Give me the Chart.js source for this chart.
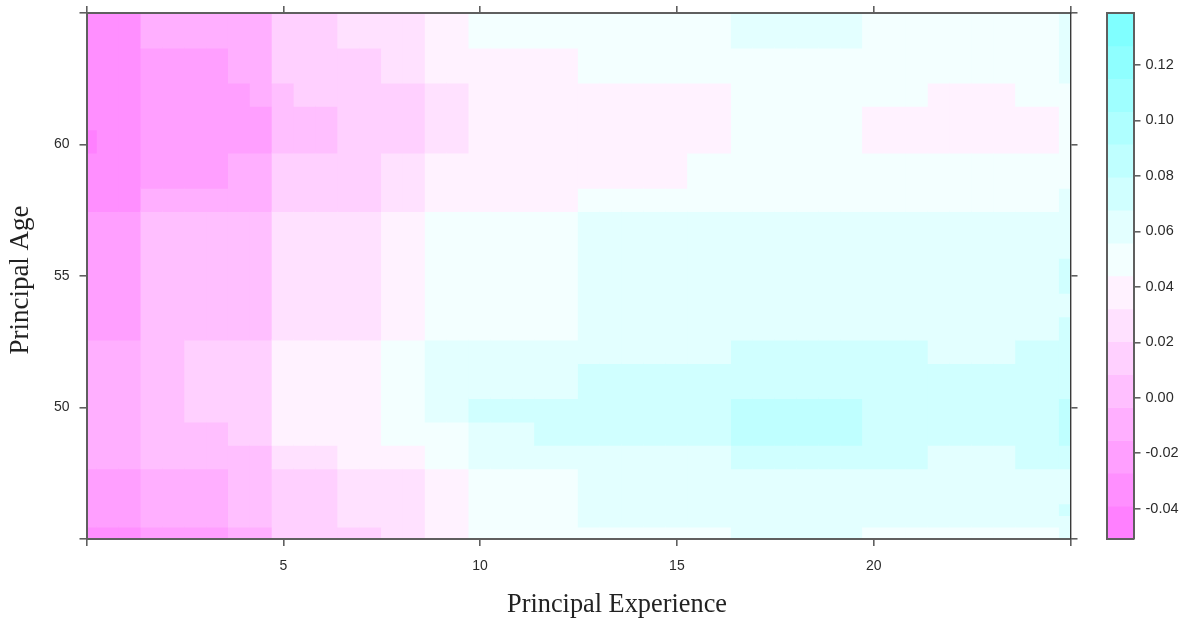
<!DOCTYPE html>
<html>
<head>
<meta charset="utf-8">
<style>
html,body{margin:0;padding:0;background:#fff;overflow:hidden}
canvas{position:absolute;top:0;display:block}
#main{left:0}
#key{left:1090px}
</style>
<script src="https://cdn.jsdelivr.net/npm/chart.js@4/dist/chart.umd.min.js"></script>
</head>
<body>
<canvas id="main" width="1090" height="623"></canvas>
<canvas id="key" width="101" height="623"></canvas>
<script>
// Colour key (low to high) and the value limits of its bands
const levelColors = ['#FF80FF','#FF8FFF','#FF9FFF','#FFAFFF','#FFBFFF','#FFD0FF','#FFE1FF','#FFF2FF',
                     '#F3FFFF','#E3FFFF','#D0FFFF','#BFFFFF','#AFFFFF','#9FFFFF','#8FFFFF','#80FFFF'];
const levelBreaks = [-0.0509,-0.0391,-0.0272,-0.0154,-0.0035,0.0083,0.0202,0.0320,0.0439,
                     0.0557,0.0676,0.0794,0.0913,0.1031,0.1150,0.1268,0.1387];
const keyTicks = [-0.04,-0.02,0,0.02,0.04,0.06,0.08,0.10,0.12];

// Grid of the surface: 46 experience columns and 45 age rows
const experience = [0,0.556,1.111,1.667,2.222,2.778,3.333,3.889,4.444,5,5.556,6.111,6.667,7.222,7.778,8.333,
  8.889,9.444,10,10.556,11.111,11.667,12.222,12.778,13.333,13.889,14.444,15,15.556,16.111,16.667,17.222,
  17.778,18.333,18.889,19.444,20,20.556,21.111,21.667,22.222,22.778,23.333,23.889,24.444,25];
const ageTop = 65, ageRowStep = 0.4444;

// Number of age rows (from the top) covered by each band below
const bandRows = [3,3,2,2,2,3,2,4,3,2,2,2,3,2,2,2,3,1,1,1];
// Surface level per band: [level index, last column of the run]
const bandLevels = [
  [[1,2],[3,8],[5,11],[6,15],[7,17],[8,29],[9,35],[8,44],[9,45]],
  [[1,2],[2,6],[3,8],[5,13],[6,15],[7,22],[8,44],[9,45]],
  [[1,2],[2,7],[3,8],[4,9],[5,15],[6,17],[7,29],[8,38],[7,42],[8,45]],
  [[1,2],[2,8],[4,11],[5,15],[6,17],[7,29],[8,35],[7,44],[8,45]],
  [[0,0],[1,2],[2,8],[4,11],[5,15],[6,17],[7,29],[8,35],[7,44],[8,45]],
  [[1,2],[2,6],[3,8],[5,13],[6,15],[7,27],[8,45]],
  [[1,2],[3,8],[5,13],[6,15],[7,22],[8,44],[9,45]],
  [[2,2],[4,8],[6,13],[7,15],[8,22],[9,45]],
  [[2,2],[4,8],[6,13],[7,15],[8,22],[9,44],[10,45]],
  [[2,2],[4,8],[6,13],[7,15],[8,22],[9,45]],
  [[2,2],[4,8],[6,13],[7,15],[8,22],[9,44],[10,45]],
  [[3,2],[4,4],[5,8],[7,13],[8,15],[9,29],[10,38],[9,42],[10,45]],
  [[3,2],[4,4],[5,8],[7,13],[8,15],[9,22],[10,45]],
  [[3,2],[4,4],[5,8],[7,13],[8,15],[9,17],[10,29],[11,35],[10,44],[11,45]],
  [[3,2],[4,6],[5,8],[7,13],[8,17],[9,20],[10,29],[11,35],[10,44],[11,45]],
  [[3,2],[4,8],[6,11],[7,15],[8,17],[9,29],[10,38],[9,42],[10,45]],
  [[2,2],[3,6],[4,8],[5,11],[6,15],[7,17],[8,22],[9,45]],
  [[2,2],[3,6],[4,8],[5,11],[6,15],[7,17],[8,22],[9,44],[10,45]],
  [[2,2],[3,6],[4,8],[5,11],[6,15],[7,17],[8,22],[9,45]],
  [[1,2],[2,6],[3,8],[5,13],[6,15],[7,17],[8,29],[9,35],[8,44],[9,45]]
];
const xTitle = 'Principal Experience', yTitle = 'Principal Age';

// Expand to one level per cell, then merge vertical runs per column
const rowsGrid = [];
bandLevels.forEach((runs, b) => {
  const row = [];
  let c = 0;
  runs.forEach(([lvl, end]) => { while (c <= end) { row[c++] = lvl; } });
  for (let i = 0; i < bandRows[b]; i++) rowsGrid.push(row);
});
const cells = [], cellColors = [];
experience.forEach((xv, c) => {
  let r = rowsGrid.length - 1;
  while (r >= 0) {
    const lvl = rowsGrid[r][c];
    const bottom = ageTop - (r + 1) * ageRowStep;
    while (r >= 0 && rowsGrid[r][c] === lvl) r--;
    const top = ageTop - (r + 1) * ageRowStep;
    cells.push({x: xv, y: [bottom, top + 0.03]});
    cellColors.push(levelColors[lvl]);
  }
});

const FRAME = '#5f5f5f', TICK_TXT = '#2b2b2b';
const tickFont = {family: '"Liberation Sans", Arial, sans-serif', size: 14};
const titleFont = {family: '"Liberation Serif", serif', size: 27};
const fix = (prop, v) => (s) => {
  s[prop] = v;
  s.paddingLeft = s.paddingRight = s.paddingTop = s.paddingBottom = 0;
};

// The two titles sit off-centre in the reference: place their own empty axes
const placeTitles = {
  id: 'placeTitles',
  afterLayout(chart) {
    const s = chart.scales;
    s.xLabel.left = 507; s.xLabel.right = 727; s.xLabel.top = 623; s.xLabel.bottom = 623;
    s.yLabel.left = 0; s.yLabel.right = 0; s.yLabel.top = 200; s.yLabel.bottom = 360;
  }
};

const axisBase = (extra) => Object.assign({
  grid: {display: true, drawOnChartArea: false, drawTicks: true, tickLength: 7, color: FRAME, lineWidth: 1.6, z: 1, offset: false},
  border: {display: true, color: FRAME, width: 2, z: 1},
  offset: false
}, extra);
const titleAxis = (pos, lo, hi, text, pad) => ({
  type: 'linear', position: pos, min: lo, max: hi, offset: false, afterFit: fix(pos === 'bottom' ? 'height' : 'width', 0),
  grid: {display: false, drawTicks: false}, border: {display: false}, ticks: {display: false},
  title: {display: true, text, font: titleFont, color: '#222', padding: pad}
});

new Chart(document.getElementById('main'), {
  type: 'bar',
  data: {datasets: [{
    data: cells, backgroundColor: cellColors, borderWidth: 0, borderSkipped: false,
    barThickness: 22.5, grouped: false
  }]},
  plugins: [placeTitles],
  options: {
    responsive: false, animation: false,
    layout: {padding: 0},
    plugins: {legend: {display: false}, tooltip: {enabled: false}},
    scales: {
      x: axisBase({type: 'linear', position: 'bottom', min: 0, max: 25, afterFit: fix('height', 84),
        ticks: {stepSize: 5, autoSkip: false, maxRotation: 0, padding: 12, color: TICK_TXT, font: tickFont,
          callback: (v) => (v === 0 || v === 25) ? '' : String(v)}}),
      y: axisBase({type: 'linear', position: 'left', min: 45, max: 65, afterFit: fix('width', 86.5),
        ticks: {stepSize: 5, autoSkip: false, padding: 10, color: TICK_TXT, font: tickFont,
          callback: (v) => (v === 45 || v === 65) ? '' : String(v)}}),
      x2: axisBase({type: 'linear', position: 'top', min: 0, max: 25, afterFit: fix('height', 13),
        ticks: {stepSize: 5, display: false}}),
      y2: axisBase({type: 'linear', position: 'right', min: 45, max: 65, afterFit: fix('width', 19.5),
        border: {display: true, color: '#3a3a3a', width: 1.4, z: 1},
        ticks: {stepSize: 5, display: false}}),
      xLabel: titleAxis('bottom', 0, 25, xTitle, {top: 0, bottom: 2}),
      yLabel: titleAxis('left', 45, 65, yTitle, {top: 5, bottom: 0})
    }
  }
});

// Colour key
const keySegments = levelColors.map((_, i) => ({x: 'key', y: [levelBreaks[i], levelBreaks[i + 1]]}));
const keyFrame = {display: true, color: FRAME, width: 2, z: 1};
new Chart(document.getElementById('key'), {
  type: 'bar',
  data: {labels: ['key'], datasets: [{
    data: keySegments, backgroundColor: levelColors, borderWidth: 0, borderSkipped: false,
    barPercentage: 1, categoryPercentage: 1, grouped: false
  }]},
  options: {
    responsive: false, animation: false,
    layout: {padding: 0},
    plugins: {legend: {display: false}, tooltip: {enabled: false}},
    scales: {
      x: {type: 'category', position: 'bottom', afterFit: fix('height', 84),
        grid: {display: false, drawTicks: false}, border: keyFrame, ticks: {display: false}},
      xt: {type: 'category', position: 'top', afterFit: fix('height', 13),
        grid: {display: false, drawTicks: false}, border: keyFrame, ticks: {display: false}},
      yl: {type: 'linear', position: 'left', min: levelBreaks[0], max: levelBreaks[16], afterFit: fix('width', 16.5),
        grid: {display: false, drawTicks: false}, border: keyFrame, ticks: {display: false}},
      y: {type: 'linear', position: 'right', min: levelBreaks[0], max: levelBreaks[16], afterFit: fix('width', 57.5),
        afterBuildTicks: (s) => { s.ticks = keyTicks.map((v) => ({value: v})); },
        grid: {display: true, drawOnChartArea: false, tickLength: 7, color: FRAME, lineWidth: 1.6, z: 1},
        border: keyFrame,
        ticks: {padding: 5, color: TICK_TXT, font: {family: tickFont.family, size: 14.5}, autoSkip: false,
          callback: (v) => v.toFixed(2)}}
    }
  }
});
</script>
</body>
</html>
